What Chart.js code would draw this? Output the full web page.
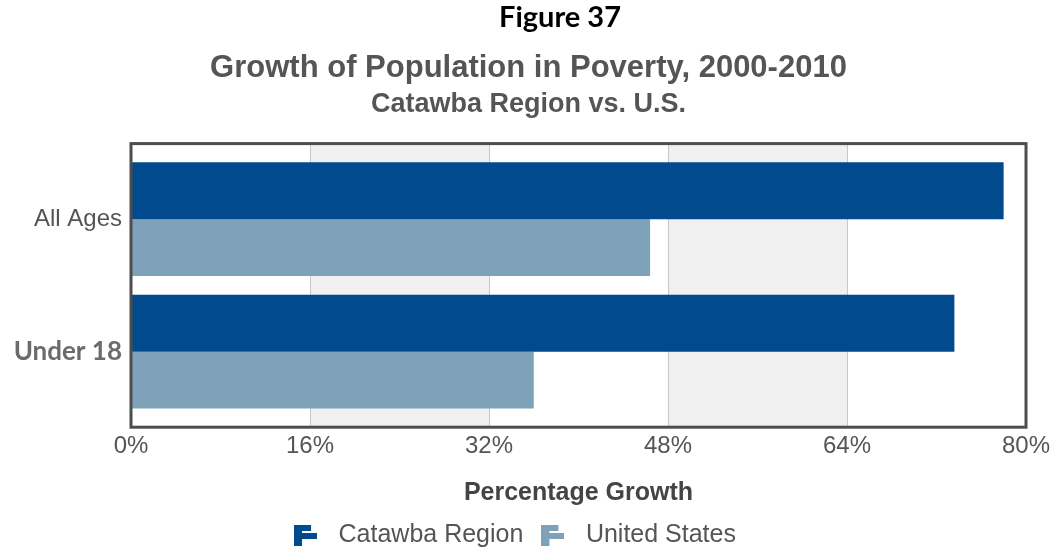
<!DOCTYPE html>
<html>
<head>
<meta charset="utf-8">
<script src="https://cdn.jsdelivr.net/npm/chart.js@4.4.1/dist/chart.umd.min.js"></script>
<style>
  html, body { margin: 0; padding: 0; background: #fff; overflow: hidden; }
  #wrap { position: relative; width: 1057px; height: 550px; }
  #fig { position: absolute; left: 0; top: -2px; width: 1120px; text-align: center;
         font-family: Lato, "Open Sans", sans-serif; font-weight: 700; font-size: 29px; color: #000; }
  canvas { display: block; }
</style>
</head>
<body>
<div id="wrap">
  <canvas id="c" width="1057" height="550"></canvas>
  <div id="fig">Figure 37</div>
</div>
<script>
const categories = ["All Ages", "Under 18"];
const seriesNames = ["Catawba Region", "United States"];
const catawbaValues = [78.0, 73.6];
const usValues = [46.4, 36.0];
const xTickStep = 16;
const xMax = 80;

const darkBlue = "#014a8e";
const lightBlue = "#7ea2ba";

function makeIcon(color) {
  const c = document.createElement("canvas");
  c.width = 23; c.height = 21;
  const g = c.getContext("2d");
  g.fillStyle = color;
  g.fillRect(0, 0, 8, 21);
  g.fillRect(0, 0, 17, 6);
  g.fillRect(0, 8, 23, 6);
  return c;
}
const icons = [makeIcon(darkBlue), makeIcon(lightBlue)];

const boxPlugin = {
  id: "boxPlugin",
  afterLayout(chart) {
    if (chart.legend) { chart.legend.left -= 18; chart.legend.right -= 18; }
  },
  beforeDraw(chart) {
    const { ctx, chartArea: a, scales: { x } } = chart;
    ctx.save();
    ctx.fillStyle = "#f0f0f0";
    for (let v = xTickStep; v < xMax; v += 2 * xTickStep) {
      const x0 = x.getPixelForValue(v), x1 = x.getPixelForValue(v + xTickStep);
      ctx.fillRect(x0, a.top, x1 - x0, a.bottom - a.top);
    }
    ctx.restore();
  },
  afterDatasetsDraw(chart) {
    const { ctx, chartArea: a } = chart;
    ctx.save();
    ctx.strokeStyle = "#4d4d4d";
    ctx.lineWidth = 3;
    ctx.strokeRect(a.left, a.top, a.right - a.left, a.bottom - a.top);
    ctx.restore();
  }
};

new Chart(document.getElementById("c"), {
  type: "bar",
  data: {
    datasets: [
      { label: seriesNames[0], data: catawbaValues.map((v, i) => ({ x: v, y: i })),
        backgroundColor: darkBlue, pointStyle: icons[0] },
      { label: seriesNames[1], data: usValues.map((v, i) => ({ x: v, y: i })),
        backgroundColor: lightBlue, pointStyle: icons[1] }
    ]
  },
  options: {
    indexAxis: "y",
    responsive: false,
    animation: false,
    categoryPercentage: 0.859,
    barPercentage: 1.0,
    layout: { padding: { left: 0, right: 0, top: 0, bottom: -8 } },
    scales: {
      x: {
        type: "linear", min: 0, max: xMax,
        afterFit: s => { s.paddingRight = 31; },
        ticks: { stepSize: xTickStep, callback: v => v + "%", padding: 5,
                 color: "#555", font: { family: "Liberation Sans", size: 24 } },
        grid: { color: "#c8c8c8", lineWidth: 1, drawTicks: false },
        border: { display: false },
        title: { display: true, text: "Percentage Growth", color: "#444",
                 font: { family: "Liberation Sans", size: 25, weight: "bold" },
                 padding: { top: 12, bottom: 6 } }
      },
      y: {
        type: "linear", reverse: true, min: -0.57, max: 1.57, offset: false,
        afterBuildTicks: s => { s.ticks = categories.map((_, i) => ({ value: i })); },
        afterFit: s => { s.width = 131; },
        ticks: {
          padding: 1,
          callback: v => categories[v],
          color: ctx => ctx.index === 1 ? "#6b6b6b" : "#555",
          font: ctx => ctx.index === 1
            ? { family: "Lato", size: 26, weight: "bold" }
            : { family: "Liberation Sans", size: 24 }
        },
        grid: { display: false, offset: false },
        border: { display: false }
      }
    },
    plugins: {
      title: { display: true, text: "Growth of Population in Poverty, 2000-2010",
               color: "#555", font: { family: "Liberation Sans", size: 31, weight: "bold" },
               padding: { top: 50, bottom: 0 } },
      subtitle: { display: true, text: "Catawba Region vs. U.S.",
                  color: "#555", font: { family: "Liberation Sans", size: 27, weight: "bold" },
                  padding: { top: 1, bottom: 23 } },
      legend: {
        position: "bottom",
        labels: { usePointStyle: true, pointStyleWidth: 41, boxHeight: 21, padding: 9,
                  color: "#555", font: { family: "Liberation Sans", size: 25 } }
      },
      tooltip: { enabled: false }
    }
  },
  plugins: [boxPlugin]
});
</script>
</body>
</html>
